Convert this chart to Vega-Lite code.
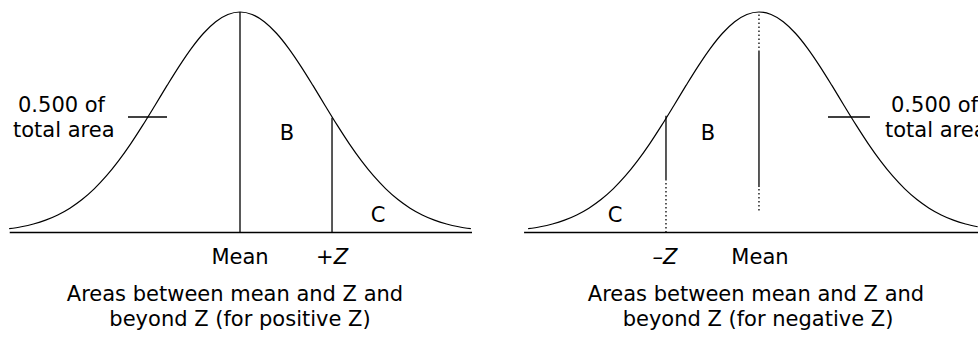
{
  "$schema": "https://vega.github.io/schema/vega-lite/v6.json",
  "background": "white",
  "padding": 0,
  "spacing": 0,
  "bounds": "flush",
  "config": {
    "view": {"stroke": null},
    "text": {"font": "DejaVu Sans", "fontSize": 21, "color": "black"},
    "line": {"color": "black", "strokeWidth": 1.2},
    "rule": {"color": "black", "strokeWidth": 1.3}
  },
  "datasets": {
    "curveL": [
      {"z": -2.85, "h": 0.0172}, {"z": -2.7, "h": 0.0261}, {"z": -2.55, "h": 0.0387}, {"z": -2.4, "h": 0.0561},
      {"z": -2.25, "h": 0.0796}, {"z": -2.1, "h": 0.1103}, {"z": -1.95, "h": 0.1494}, {"z": -1.8, "h": 0.1979},
      {"z": -1.65, "h": 0.2563}, {"z": -1.5, "h": 0.3247}, {"z": -1.35, "h": 0.402}, {"z": -1.2, "h": 0.4868},
      {"z": -1.05, "h": 0.5762}, {"z": -0.9, "h": 0.667}, {"z": -0.75, "h": 0.7548}, {"z": -0.6, "h": 0.8353},
      {"z": -0.45, "h": 0.9037}, {"z": -0.3, "h": 0.956}, {"z": -0.15, "h": 0.9888}, {"z": 0, "h": 1},
      {"z": 0.15, "h": 0.9888}, {"z": 0.3, "h": 0.956}, {"z": 0.45, "h": 0.9037}, {"z": 0.6, "h": 0.8353},
      {"z": 0.75, "h": 0.7548}, {"z": 0.9, "h": 0.667}, {"z": 1.05, "h": 0.5762}, {"z": 1.2, "h": 0.4868},
      {"z": 1.35, "h": 0.402}, {"z": 1.5, "h": 0.3247}, {"z": 1.65, "h": 0.2563}, {"z": 1.8, "h": 0.1979},
      {"z": 1.95, "h": 0.1494}, {"z": 2.1, "h": 0.1103}, {"z": 2.25, "h": 0.0796}, {"z": 2.4, "h": 0.0561},
      {"z": 2.55, "h": 0.0387}, {"z": 2.7, "h": 0.0261}, {"z": 2.85, "h": 0.0172}
    ],
    "curveR": [
      {"z": -2.85, "h": 0.0172}, {"z": -2.7, "h": 0.0261}, {"z": -2.55, "h": 0.0387}, {"z": -2.4, "h": 0.0561},
      {"z": -2.25, "h": 0.0796}, {"z": -2.1, "h": 0.1103}, {"z": -1.95, "h": 0.1494}, {"z": -1.8, "h": 0.1979},
      {"z": -1.65, "h": 0.2563}, {"z": -1.5, "h": 0.3247}, {"z": -1.35, "h": 0.402}, {"z": -1.2, "h": 0.4868},
      {"z": -1.05, "h": 0.5762}, {"z": -0.9, "h": 0.667}, {"z": -0.75, "h": 0.7548}, {"z": -0.6, "h": 0.8353},
      {"z": -0.45, "h": 0.9037}, {"z": -0.3, "h": 0.956}, {"z": -0.15, "h": 0.9888}, {"z": 0, "h": 1},
      {"z": 0.15, "h": 0.9888}, {"z": 0.3, "h": 0.956}, {"z": 0.45, "h": 0.9037}, {"z": 0.6, "h": 0.8353},
      {"z": 0.75, "h": 0.7548}, {"z": 0.9, "h": 0.667}, {"z": 1.05, "h": 0.5762}, {"z": 1.2, "h": 0.4868},
      {"z": 1.35, "h": 0.402}, {"z": 1.5, "h": 0.3247}, {"z": 1.65, "h": 0.2563}, {"z": 1.8, "h": 0.1979},
      {"z": 1.95, "h": 0.1494}, {"z": 2.1, "h": 0.1103}, {"z": 2.25, "h": 0.0796}, {"z": 2.4, "h": 0.0561},
      {"z": 2.55, "h": 0.0387}, {"z": 2.7, "h": 0.0261}
    ],
    "rulesL": [
      {"z": -2.843, "z2": 2.864, "h": 0, "h2": 0, "dash": "solid"},
      {"z": 0, "z2": 0, "h": 0, "h2": 1, "dash": "solid"},
      {"z": 1.136, "z2": 1.136, "h": 0, "h2": 0.52, "dash": "solid"},
      {"z": -1.383, "z2": -0.901, "h": 0.5238, "h2": 0.5238, "dash": "solid"}
    ],
    "rulesR": [
      {"z": -2.9, "z2": 2.704, "h": 0, "h2": 0, "dash": "solid"},
      {"z": 0, "z2": 0, "h": 0.8186, "h2": 1, "dash": "dot"},
      {"z": 0, "z2": 0, "h": 0.2063, "h2": 0.8186, "dash": "solid"},
      {"z": 0, "z2": 0, "h": 0.1, "h2": 0.2063, "dash": "dot"},
      {"z": -1.148, "z2": -1.148, "h": 0.2381, "h2": 0.53, "dash": "solid"},
      {"z": -1.148, "z2": -1.148, "h": 0, "h2": 0.2381, "dash": "dot"},
      {"z": 0.852, "z2": 1.37, "h": 0.5238, "h2": 0.5238, "dash": "solid"}
    ],
    "textCL": [
      {"z": 0.58, "h": 0.4195, "label": "B"},
      {"z": 1.704, "h": 0.0476, "label": "C"},
      {"z": 0, "h": -0.1429, "label": "Mean"},
      {"z": -0.062, "h": -0.3106, "label": "Areas between mean and Z and"},
      {"z": 0, "h": -0.424, "label": "beyond Z (for positive Z)"}
    ],
    "textIL": [
      {"z": 1.136, "h": -0.1429, "label": "+Z"}
    ],
    "textLL": [
      {"z": -2.741, "h": 0.5465, "label": "0.500 of"},
      {"z": -2.802, "h": 0.4331, "label": "total area"}
    ],
    "textCR": [
      {"z": -0.63, "h": 0.4195, "label": "B"},
      {"z": -1.778, "h": 0.0476, "label": "C"},
      {"z": 0.012, "h": -0.1429, "label": "Mean"},
      {"z": -0.037, "h": -0.3106, "label": "Areas between mean and Z and"},
      {"z": -0.012, "h": -0.424, "label": "beyond Z (for negative Z)"}
    ],
    "textIR": [
      {"z": -1.16, "h": -0.1429, "label": "–Z"}
    ],
    "textLR": [
      {"z": 1.63, "h": 0.5465, "label": "0.500 of"},
      {"z": 1.556, "h": 0.4331, "label": "total area"}
    ]
  },
  "hconcat": [
    {
      "width": 489,
      "height": 337,
      "layer": [
        {
          "data": {"name": "curveL"},
          "mark": {"type": "line", "interpolate": "monotone"},
          "encoding": {
            "x": {"field": "z", "type": "quantitative", "scale": {"domain": [-2.963, 3.074], "nice": false, "zero": false}, "axis": null},
            "y": {"field": "h", "type": "quantitative", "scale": {"domain": [-0.474, 1.0544], "nice": false, "zero": false}, "axis": null}
          }
        },
        {
          "data": {"name": "rulesL"},
          "mark": {"type": "rule"},
          "encoding": {
            "x": {"field": "z", "type": "quantitative"},
            "x2": {"field": "z2"},
            "y": {"field": "h", "type": "quantitative"},
            "y2": {"field": "h2"},
            "strokeDash": {"field": "dash", "type": "nominal", "scale": {"domain": ["solid", "dot"], "range": [[1, 0], [1.5, 2.5]]}, "legend": null}
          }
        },
        {
          "data": {"name": "textCL"},
          "mark": {"type": "text", "align": "center", "baseline": "alphabetic"},
          "encoding": {
            "x": {"field": "z", "type": "quantitative"},
            "y": {"field": "h", "type": "quantitative"},
            "text": {"field": "label"}
          }
        },
        {
          "data": {"name": "textIL"},
          "mark": {"type": "text", "align": "center", "baseline": "alphabetic", "fontStyle": "italic"},
          "encoding": {
            "x": {"field": "z", "type": "quantitative"},
            "y": {"field": "h", "type": "quantitative"},
            "text": {"field": "label"}
          }
        },
        {
          "data": {"name": "textLL"},
          "mark": {"type": "text", "align": "left", "baseline": "alphabetic"},
          "encoding": {
            "x": {"field": "z", "type": "quantitative"},
            "y": {"field": "h", "type": "quantitative"},
            "text": {"field": "label"}
          }
        }
      ]
    },
    {
      "width": 489,
      "height": 337,
      "layer": [
        {
          "data": {"name": "curveR"},
          "mark": {"type": "line", "interpolate": "monotone"},
          "encoding": {
            "x": {"field": "z", "type": "quantitative", "scale": {"domain": [-3.333, 2.704], "nice": false, "zero": false}, "axis": null},
            "y": {"field": "h", "type": "quantitative", "scale": {"domain": [-0.474, 1.0544], "nice": false, "zero": false}, "axis": null}
          }
        },
        {
          "data": {"name": "rulesR"},
          "mark": {"type": "rule"},
          "encoding": {
            "x": {"field": "z", "type": "quantitative"},
            "x2": {"field": "z2"},
            "y": {"field": "h", "type": "quantitative"},
            "y2": {"field": "h2"},
            "strokeDash": {"field": "dash", "type": "nominal", "scale": {"domain": ["solid", "dot"], "range": [[1, 0], [1.5, 2.5]]}, "legend": null}
          }
        },
        {
          "data": {"name": "textCR"},
          "mark": {"type": "text", "align": "center", "baseline": "alphabetic"},
          "encoding": {
            "x": {"field": "z", "type": "quantitative"},
            "y": {"field": "h", "type": "quantitative"},
            "text": {"field": "label"}
          }
        },
        {
          "data": {"name": "textIR"},
          "mark": {"type": "text", "align": "center", "baseline": "alphabetic", "fontStyle": "italic"},
          "encoding": {
            "x": {"field": "z", "type": "quantitative"},
            "y": {"field": "h", "type": "quantitative"},
            "text": {"field": "label"}
          }
        },
        {
          "data": {"name": "textLR"},
          "mark": {"type": "text", "align": "left", "baseline": "alphabetic"},
          "encoding": {
            "x": {"field": "z", "type": "quantitative"},
            "y": {"field": "h", "type": "quantitative"},
            "text": {"field": "label"}
          }
        }
      ]
    }
  ]
}
